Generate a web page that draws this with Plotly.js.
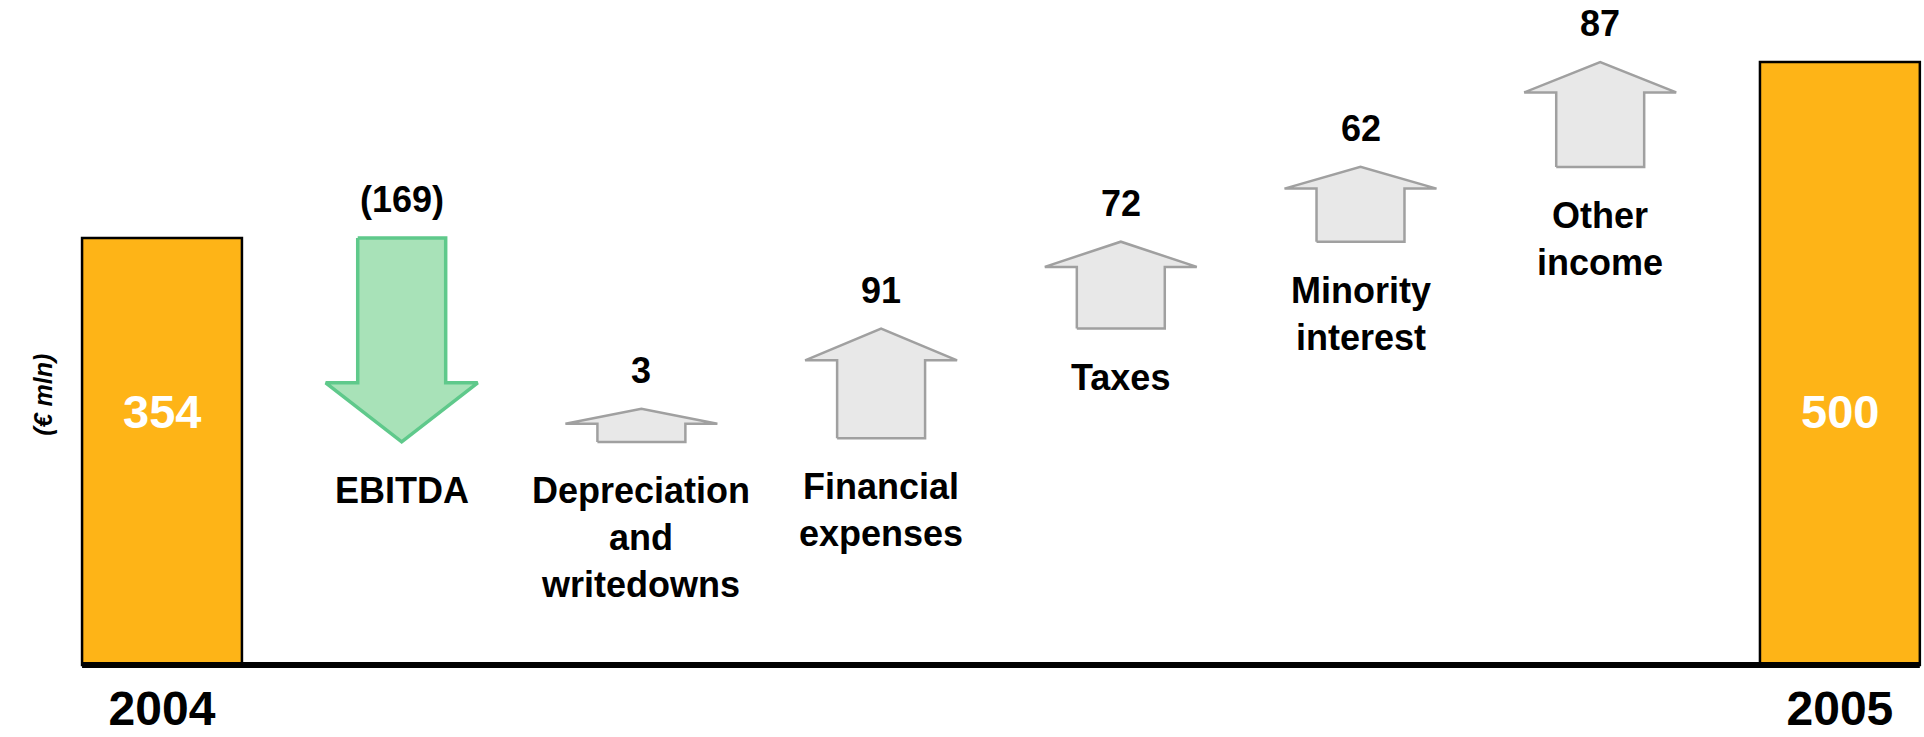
<!DOCTYPE html>
<html>
<head>
<meta charset="utf-8">
<script src="https://cdn.plot.ly/plotly-3.0.1.min.js"></script>
<style>
  html, body { margin: 0; padding: 0; background: #ffffff; }
  #chart { width: 1924px; height: 737px; }
</style>
</head>
<body>
<div id="chart"></div>
<script>
// ---------------- data ----------------
const years = ['2004', '2005'];
const totals = [354, 500];
const steps = ['EBITDA', 'Depreciation<br>and<br>writedowns', 'Financial<br>expenses', 'Taxes', 'Minority<br>interest', 'Other<br>income'];
const changes = [-169, 3, 91, 72, 62, 87];
const unitLabel = '(€ mln)';

// ---------------- styles ----------------
const FONT = 'Liberation Sans, Arial, Helvetica, sans-serif';
const BAR_COLOR = '#FEB417';
const DOWN_FILL = '#A8E2B8', DOWN_LINE = '#5FC98B';
const UP_FILL = '#E8E8E8', UP_LINE = '#A0A0A0';
const BAR_W = 0.667, HEAD_W = 0.634, BODY_W = 0.367;
const HEAD_FRAC = 0.29;   // arrow head height as a share of arrow length
const MIN_LEN = 27.5;     // minimum drawn arrow length, in value units

// positions on the category axis: first total, the steps, last total
const nSteps = changes.length;
const xStart = 0, xEnd = nSteps + 1;

const traces = [];
// totals as bars
traces.push({
  type: 'bar',
  x: [xStart, xEnd],
  y: totals,
  width: BAR_W,
  marker: { color: BAR_COLOR, line: { color: '#000000', width: 2.5 } },
  hoverinfo: 'x+y',
  showlegend: false
});

const annotations = [];
let level = totals[0];
changes.forEach((v, i) => {
  const x = i + 1;
  const dir = v >= 0 ? 1 : -1;
  const len = Math.max(Math.abs(v), MIN_LEN);
  const base = level;
  const tip = base + dir * len;
  const h = Math.min(Math.max(HEAD_FRAC * len, 0.45 * MIN_LEN), len / 2);
  const sh = tip - dir * h;
  const xs = [x - BODY_W / 2, x + BODY_W / 2, x + BODY_W / 2, x + HEAD_W / 2, x, x - HEAD_W / 2, x - BODY_W / 2, x - BODY_W / 2];
  const ys = [base, base, sh, sh, tip, sh, sh, base];
  traces.push({
    type: 'scatter', mode: 'lines', x: xs, y: ys, fill: 'toself',
    fillcolor: v < 0 ? DOWN_FILL : UP_FILL,
    line: { color: v < 0 ? DOWN_LINE : UP_LINE, width: v < 0 ? 3.5 : 2.5 },
    hoverinfo: 'skip', showlegend: false
  });
  const top = Math.max(base, tip), bottom = Math.min(base, tip);
  annotations.push({
    x: x, y: top, xref: 'x', yref: 'y', yanchor: 'bottom', yshift: 16,
    text: '<b>' + (v < 0 ? '(' + Math.abs(v) + ')' : String(v)) + '</b>',
    showarrow: false, font: { family: FONT, size: 36, color: '#000000' }
  });
  annotations.push({
    x: x, y: bottom, xref: 'x', yref: 'y', yanchor: 'top', yshift: -26,
    text: '<b>' + steps[i] + '</b>',
    showarrow: false, font: { family: FONT, size: 36, color: '#000000' }
  });
  level += v;
});

// value labels inside the total bars
[xStart, xEnd].forEach((x, k) => {
  annotations.push({
    x: x, xref: 'x', y: 0.385, yref: 'paper', yanchor: 'middle',
    text: '<b>' + totals[k] + '</b>', showarrow: false,
    font: { family: FONT, size: 47, color: '#FFFFFF' }
  });
});
// unit label
annotations.push({
  x: 0.014, xref: 'paper', y: 0.41, yref: 'paper', textangle: -90,
  text: '<b><i>' + unitLabel + '</i></b>', showarrow: false,
  font: { family: FONT, size: 25, color: '#000000' }
});

const pxPerUnitX = 239.7;
const pxPerUnitY = 1.206;
const layout = {
  width: 1924, height: 737,
  margin: { l: 0, r: 0, t: 0, b: 68 },
  paper_bgcolor: '#ffffff', plot_bgcolor: '#ffffff',
  showlegend: false,
  xaxis: {
    range: [-162 / pxPerUnitX, -162 / pxPerUnitX + 1924 / pxPerUnitX],
    tickmode: 'array', tickvals: [xStart, xEnd], ticktext: years.map(t => '<b>' + t + '</b>'),
    tickfont: { family: FONT, size: 48, color: '#000000' },
    ticks: '', showgrid: false, zeroline: false, showline: false,
    ticklabelstandoff: 7, fixedrange: true
  },
  yaxis: { range: [-4 / pxPerUnitY, 665 / pxPerUnitY], visible: false, fixedrange: true },
  shapes: [{
    type: 'line', xref: 'x', yref: 'y',
    x0: xStart - BAR_W / 2, x1: xEnd + BAR_W / 2, y0: 0, y1: 0,
    line: { color: '#000000', width: 6 }, layer: 'above'
  }],
  annotations: annotations
};

Plotly.newPlot('chart', traces, layout, { displayModeBar: false, staticPlot: true });
</script>
</body>
</html>
